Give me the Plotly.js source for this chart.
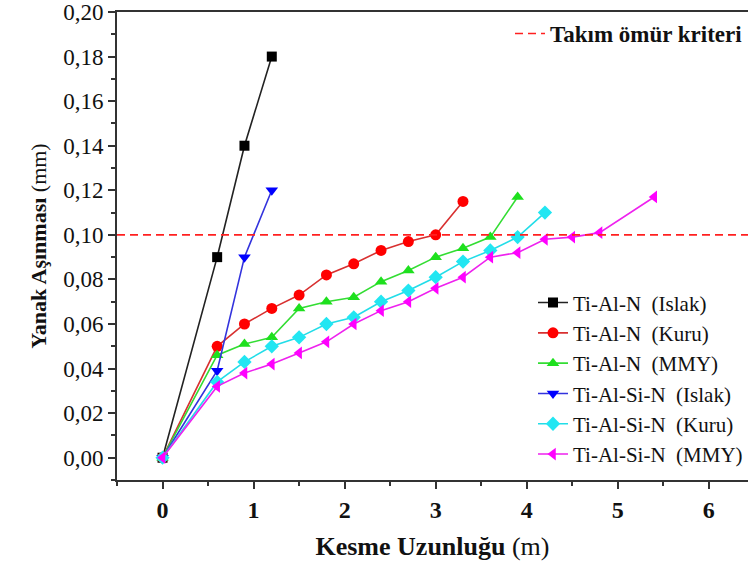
<!DOCTYPE html>
<html>
<head>
<meta charset="utf-8">
<script src="https://cdn.plot.ly/plotly-3.0.1.min.js"></script>
<style>html,body{margin:0;padding:0;background:#fff;}#chart{width:748px;height:565px;}</style>
</head>
<body>
<div id="chart"></div>
<script>
// Data (cutting length in m, flank wear in mm)
const seriesNames = [
  "Ti-Al-N\u00a0 (Islak)",
  "Ti-Al-N\u00a0 (Kuru)",
  "Ti-Al-N\u00a0 (MMY)",
  "Ti-Al-Si-N\u00a0 (Islak)",
  "Ti-Al-Si-N\u00a0 (Kuru)",
  "Ti-Al-Si-N\u00a0 (MMY)"
];
const x_TiAlN_Islak = [0, 0.6, 0.9, 1.2];
const y_TiAlN_Islak = [0, 0.090, 0.140, 0.180];
const x_TiAlN_Kuru = [0, 0.6, 0.9, 1.2, 1.5, 1.8, 2.1, 2.4, 2.7, 3.0, 3.3];
const y_TiAlN_Kuru = [0, 0.050, 0.060, 0.067, 0.073, 0.082, 0.087, 0.093, 0.097, 0.100, 0.115];
const x_TiAlN_MMY = [0, 0.6, 0.9, 1.2, 1.5, 1.8, 2.1, 2.4, 2.7, 3.0, 3.3, 3.6, 3.9];
const y_TiAlN_MMY = [0, 0.046, 0.051, 0.054, 0.067, 0.070, 0.072, 0.079, 0.084, 0.090, 0.094, 0.099, 0.117];
const x_TiAlSiN_Islak = [0, 0.6, 0.9, 1.2];
const y_TiAlSiN_Islak = [0, 0.039, 0.090, 0.120];
const x_TiAlSiN_Kuru = [0, 0.6, 0.9, 1.2, 1.5, 1.8, 2.1, 2.4, 2.7, 3.0, 3.3, 3.6, 3.9, 4.2];
const y_TiAlSiN_Kuru = [0, 0.034, 0.043, 0.050, 0.054, 0.060, 0.063, 0.070, 0.075, 0.081, 0.088, 0.093, 0.099, 0.110];
const x_TiAlSiN_MMY = [0, 0.6, 0.9, 1.2, 1.5, 1.8, 2.1, 2.4, 2.7, 3.0, 3.3, 3.6, 3.9, 4.2, 4.5, 4.8, 5.4];
const y_TiAlSiN_MMY = [0, 0.032, 0.038, 0.042, 0.047, 0.052, 0.060, 0.066, 0.070, 0.076, 0.081, 0.090, 0.092, 0.098, 0.099, 0.101, 0.117];
const criterionName = "Takım ömür kriteri";
const criterionValue = 0.10;
const xTickVals = [0, 1, 2, 3, 4, 5, 6];
const yTickVals = [0, 0.02, 0.04, 0.06, 0.08, 0.10, 0.12, 0.14, 0.16, 0.18, 0.20];

const xs = [x_TiAlN_Islak, x_TiAlN_Kuru, x_TiAlN_MMY, x_TiAlSiN_Islak, x_TiAlSiN_Kuru, x_TiAlSiN_MMY];
const ys = [y_TiAlN_Islak, y_TiAlN_Kuru, y_TiAlN_MMY, y_TiAlSiN_Islak, y_TiAlSiN_Kuru, y_TiAlSiN_MMY];
const colors = ["#000000", "#ff0000", "#1ee01e", "#0000ff", "#22e6f2", "#ff00ff"];
const lineColors = ["#222222", "#d83030", "#33dd33", "#3333dd", "#22dde8", "#ee22ee"];
const symbols = ["square", "circle", "triangle-up", "triangle-down", "diamond", "triangle-left"];
const sizes = [10, 11, 11, 11, 11, 11];

const FONT = "Liberation Serif";

const traces = xs.map((x, i) => ({
  type: "scatter",
  mode: "lines+markers",
  x: x,
  y: ys[i],
  name: seriesNames[i],
  legendgroup: "g" + i,
  line: {color: lineColors[i], width: 1.6},
  marker: {symbol: symbols[i], color: colors[i], size: sizes[i], line: {width: 0}},
  cliponaxis: false
}));

const layout = {
  width: 748,
  height: 565,
  margin: {l: 117, r: 0, t: 12, b: 85},
  paper_bgcolor: "#fff",
  plot_bgcolor: "#fff",
  separators: ",.",
  font: {family: FONT, color: "#111", size: 18},
  xaxis: {
    range: [-0.5, 6.43],
    tickvals: xTickVals,
    ticktext: xTickVals.map(v => "<b>" + v + "</b>"),
    ticks: "outside",
    ticklen: 7,
    tickwidth: 2,
    tickcolor: "#333",
    minor: {dtick: 0.5, tick0: 0, ticks: "outside", ticklen: 4, tickwidth: 2, tickcolor: "#333"},
    showgrid: false,
    zeroline: false,
    showline: true,
    linewidth: 2,
    linecolor: "#333",
    mirror: true,
    tickfont: {size: 24, family: FONT, color: "#111"},
    title: {text: "<b>Kesme Uzunluğu</b> (m)", font: {size: 26, family: FONT, color: "#111"}, standoff: 15}
  },
  yaxis: {
    range: [-0.01, 0.2],
    tickvals: yTickVals,
    tickformat: ".2f",
    ticks: "outside",
    ticklen: 7,
    tickwidth: 2,
    tickcolor: "#333",
    minor: {dtick: 0.01, tick0: 0, ticks: "outside", ticklen: 4, tickwidth: 2, tickcolor: "#333"},
    showgrid: false,
    zeroline: false,
    showline: true,
    linewidth: 2,
    linecolor: "#333",
    mirror: false,
    tickfont: {size: 23, family: FONT, color: "#111"},
    title: {text: "<b>Yanak Aşınması</b> (mm)", font: {size: 22, family: FONT, color: "#111"}, standoff: 10}
  },
  shapes: [{
    type: "line",
    xref: "x domain", x0: 0, x1: 1,
    yref: "y", y0: criterionValue, y1: criterionValue,
    line: {color: "#ff2020", width: 1.6, dash: "8px,5px"},
    showlegend: true,
    name: "<b>" + criterionName + "</b>",
    legend: "legend2"
  }],
  showlegend: true,
  legend: {
    x: 1.0, xanchor: "right",
    y: 0.012, yanchor: "bottom",
    bgcolor: "rgba(0,0,0,0)",
    borderwidth: 0,
    font: {size: 21, family: FONT, color: "#111"},
    tracegroupgap: 0,
    itemwidth: 30
  },
  legend2: {
    x: 1.0, xanchor: "right",
    y: 1.0, yanchor: "top",
    bgcolor: "rgba(0,0,0,0)",
    borderwidth: 0,
    font: {size: 23, family: FONT, color: "#111"}
  }
};

Plotly.newPlot("chart", traces, layout, {displayModeBar: false, staticPlot: true});
</script>
</body>
</html>
